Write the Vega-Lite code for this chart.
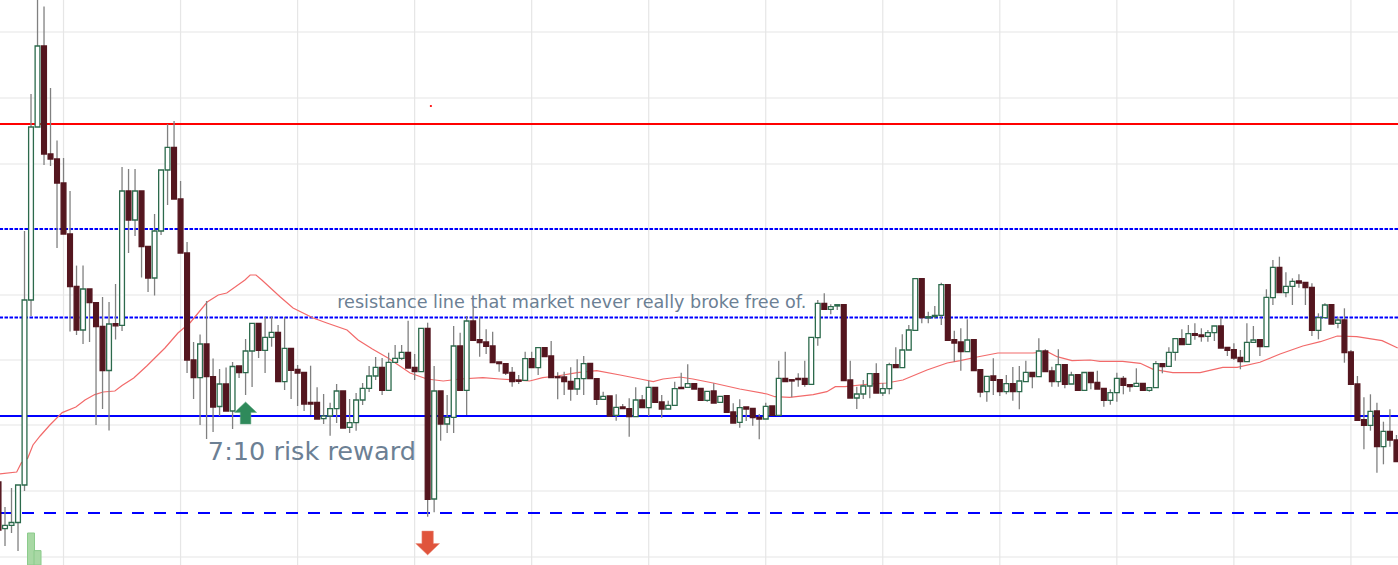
{
"$schema":"https://vega.github.io/schema/vega-lite/v6.json",
"description":"Daily candlesticks with moving average, resistance and support levels",
"autosize":{"type":"none"},
"padding":0,
"width":1398,
"height":565,
"background":"white",
"view":{"stroke":null},
"config":{"scale":{"continuousPadding":0}},
"datasets":{
"gridBars":[{"bar":10},{"bar":28},{"bar":46},{"bar":64},{"bar":82},{"bar":100},{"bar":118},{"bar":136},{"bar":154},{"bar":172},{"bar":190},{"bar":208}],
"gridPrices":[{"price":533},{"price":467},{"price":401},{"price":336},{"price":270},{"price":205},{"price":140},{"price":74},{"price":8}],
"volume":[{"bar":5,"volume":32},{"bar":6,"volume":14.4}],
"ma":[{"bar":0.2,"ma":91},{"bar":2.8,"ma":93},{"bar":3.5,"ma":102},{"bar":4.5,"ma":107},{"bar":5.3,"ma":120},{"bar":6.4,"ma":129},{"bar":7.9,"ma":140},{"bar":9.8,"ma":152.4},{"bar":11.9,"ma":158},{"bar":13.3,"ma":165},{"bar":14.8,"ma":170.4},{"bar":16.1,"ma":173},{"bar":17.9,"ma":174},{"bar":19,"ma":179.4},{"bar":20.8,"ma":187},{"bar":22.8,"ma":199},{"bar":25.6,"ma":217},{"bar":27.6,"ma":232},{"bar":29.5,"ma":242.5},{"bar":32.1,"ma":263},{"bar":33.8,"ma":270},{"bar":35.1,"ma":272},{"bar":37.9,"ma":285},{"bar":38.7,"ma":290},{"bar":39.6,"ma":290},{"bar":40.5,"ma":285},{"bar":43.3,"ma":268.3},{"bar":45.3,"ma":257},{"bar":48.4,"ma":247},{"bar":50.5,"ma":242},{"bar":53.6,"ma":235},{"bar":55.3,"ma":225},{"bar":57.5,"ma":216},{"bar":59.9,"ma":207},{"bar":63.3,"ma":192},{"bar":65.9,"ma":186},{"bar":68.4,"ma":184},{"bar":71,"ma":186},{"bar":74.5,"ma":187.3},{"bar":77.1,"ma":186},{"bar":81.7,"ma":184},{"bar":83.7,"ma":187.3},{"bar":85.9,"ma":189},{"bar":89,"ma":192.3},{"bar":92,"ma":194.3},{"bar":95.6,"ma":190},{"bar":98.7,"ma":186},{"bar":100.7,"ma":183.3},{"bar":102.2,"ma":186},{"bar":104.8,"ma":188},{"bar":106.8,"ma":186},{"bar":109.9,"ma":182},{"bar":114,"ma":176},{"bar":118.2,"ma":171},{"bar":119.4,"ma":168.3},{"bar":121.7,"ma":167.7},{"bar":125.3,"ma":170.3},{"bar":127.4,"ma":173.3},{"bar":128.7,"ma":178.3},{"bar":130.2,"ma":178.3},{"bar":134,"ma":181},{"bar":136.6,"ma":182},{"bar":139.1,"ma":185},{"bar":142.8,"ma":195},{"bar":145.9,"ma":202},{"bar":147.9,"ma":204.3},{"bar":150.5,"ma":208},{"bar":153.7,"ma":212},{"bar":159.1,"ma":212},{"bar":161.3,"ma":213.3},{"bar":162.8,"ma":208.3},{"bar":165.1,"ma":204.3},{"bar":167.9,"ma":205},{"bar":169.4,"ma":203.7},{"bar":172.9,"ma":203.7},{"bar":175.6,"ma":201.7},{"bar":177.6,"ma":195.7},{"bar":180.6,"ma":192.3},{"bar":184.8,"ma":192.3},{"bar":188.3,"ma":197.7},{"bar":190.5,"ma":197.7},{"bar":194,"ma":202.7},{"bar":197.1,"ma":211},{"bar":200.6,"ma":219},{"bar":203.3,"ma":223.3},{"bar":205.9,"ma":229},{"bar":208.9,"ma":228.3},{"bar":212.8,"ma":224.3},{"bar":215.2,"ma":217}],
"candles":[
{"bar":0,"open":83,"high":83,"low":30,"close":35},
{"bar":1,"open":36.4,"high":58,"low":19,"close":39.6},
{"bar":2,"open":39.6,"high":77,"low":32,"close":42.5},
{"bar":3,"open":42.5,"high":80,"low":14,"close":80},
{"bar":4,"open":80,"high":334,"low":74,"close":265},
{"bar":5,"open":265,"high":471,"low":249,"close":438},
{"bar":6,"open":438,"high":565,"low":438,"close":519},
{"bar":7,"open":519,"high":558.5,"low":400,"close":411},
{"bar":8,"open":411,"high":477,"low":399,"close":406},
{"bar":9,"open":406,"high":424.5,"low":317,"close":382},
{"bar":10,"open":382,"high":407,"low":331,"close":331},
{"bar":11,"open":331,"high":374,"low":233.5,"close":278.5},
{"bar":12,"open":278.5,"high":299.4,"low":230,"close":235},
{"bar":13,"open":235,"high":299.4,"low":221,"close":276},
{"bar":14,"open":276,"high":276,"low":223,"close":262.3},
{"bar":15,"open":262.3,"high":262.3,"low":140,"close":238.5},
{"bar":16,"open":238.5,"high":268,"low":156,"close":194.5},
{"bar":17,"open":194.5,"high":263,"low":134.4,"close":241},
{"bar":18,"open":241.4,"high":281,"low":225.5,"close":239.2},
{"bar":19,"open":239.6,"high":398,"low":234,"close":374},
{"bar":20,"open":374,"high":396,"low":312,"close":345},
{"bar":21,"open":345,"high":396,"low":329,"close":374},
{"bar":22,"open":374,"high":374,"low":287.5,"close":318.5},
{"bar":23,"open":318.5,"high":318.5,"low":273,"close":287},
{"bar":24,"open":287,"high":351,"low":269.5,"close":334},
{"bar":25,"open":334,"high":395,"low":330,"close":395},
{"bar":26,"open":395,"high":441,"low":360,"close":417.6},
{"bar":27,"open":417.6,"high":444,"low":366,"close":366},
{"bar":28,"open":366,"high":384,"low":312,"close":312},
{"bar":29,"open":312,"high":323,"low":192,"close":205},
{"bar":30,"open":205,"high":223,"low":166,"close":187.3},
{"bar":31,"open":187.3,"high":230.6,"low":140,"close":221},
{"bar":32,"open":221,"high":264,"low":126,"close":188.4},
{"bar":33,"open":188.4,"high":206.4,"low":133,"close":158},
{"bar":34,"open":158.5,"high":196,"low":149,"close":181},
{"bar":35,"open":181,"high":197.4,"low":154,"close":154},
{"bar":36,"open":154,"high":203,"low":136,"close":198.5},
{"bar":37,"open":199,"high":199,"low":187,"close":192.3},
{"bar":38,"open":192.3,"high":226,"low":170,"close":214},
{"bar":39,"open":214,"high":241.7,"low":178,"close":241.7},
{"bar":40,"open":241.7,"high":241.7,"low":207,"close":214.7},
{"bar":41,"open":214.7,"high":248.3,"low":192,"close":227.7},
{"bar":42,"open":227.7,"high":248.3,"low":218.3,"close":232.7},
{"bar":43,"open":232.7,"high":240,"low":183.3,"close":183.3},
{"bar":44,"open":183.3,"high":248,"low":175,"close":216.7},
{"bar":45,"open":216.7,"high":216.7,"low":166,"close":194.7},
{"bar":46,"open":195.7,"high":200,"low":159,"close":192},
{"bar":47,"open":192.7,"high":192.7,"low":154,"close":161},
{"bar":48,"open":162.7,"high":199.3,"low":150,"close":161},
{"bar":49,"open":162.7,"high":177.7,"low":146,"close":146},
{"bar":50,"open":146.3,"high":171,"low":141,"close":149},
{"bar":51,"open":149,"high":162.3,"low":129.3,"close":156.3},
{"bar":52,"open":156.3,"high":181,"low":142,"close":174},
{"bar":53,"open":174,"high":174,"low":137,"close":137},
{"bar":54,"open":137.7,"high":166,"low":132,"close":142.3},
{"bar":55,"open":142.3,"high":172,"low":134.3,"close":165},
{"bar":56,"open":165,"high":182,"low":160,"close":176.7},
{"bar":57,"open":176.7,"high":199,"low":173,"close":189},
{"bar":58,"open":189,"high":208,"low":185,"close":197.7},
{"bar":59,"open":197.7,"high":207,"low":170,"close":174.7},
{"bar":60,"open":174.7,"high":212.3,"low":174.7,"close":202.7},
{"bar":61,"open":202.7,"high":220,"low":202,"close":206.7},
{"bar":62,"open":206.7,"high":220,"low":205,"close":212.7},
{"bar":63,"open":212.7,"high":244.3,"low":197,"close":197},
{"bar":64,"open":197.7,"high":211,"low":185,"close":193.3},
{"bar":65,"open":193.3,"high":236.7,"low":193.3,"close":236.7},
{"bar":66,"open":236.7,"high":242.3,"low":48.3,"close":65.7},
{"bar":67,"open":66,"high":199,"low":52.7,"close":174},
{"bar":68,"open":174,"high":174,"low":124.3,"close":141},
{"bar":69,"open":141,"high":170,"low":132,"close":147.7},
{"bar":70,"open":147.7,"high":239,"low":132,"close":219},
{"bar":71,"open":219,"high":232.3,"low":174.7,"close":174.7},
{"bar":72,"open":174.7,"high":249,"low":150,"close":244},
{"bar":73,"open":244,"high":258.3,"low":224.7,"close":224.7},
{"bar":74,"open":225.3,"high":248.3,"low":208.3,"close":222.3},
{"bar":75,"open":223,"high":235.7,"low":211,"close":218.7},
{"bar":76,"open":219,"high":233.3,"low":202.3,"close":202.3},
{"bar":77,"open":203,"high":203,"low":193.3,"close":201.3},
{"bar":78,"open":201.3,"high":201.3,"low":190,"close":192},
{"bar":79,"open":192.7,"high":198,"low":178.3,"close":183.3},
{"bar":80,"open":185,"high":190,"low":181,"close":183.7},
{"bar":81,"open":184.7,"high":213.3,"low":184.7,"close":206.3},
{"bar":82,"open":206.3,"high":213.3,"low":197.3,"close":197.3},
{"bar":83,"open":197.3,"high":217.3,"low":190,"close":217.3},
{"bar":84,"open":217.3,"high":217.3,"low":208,"close":208.3},
{"bar":85,"open":209,"high":224,"low":187.3,"close":187.3},
{"bar":86,"open":188.3,"high":192.7,"low":165.7,"close":187.3},
{"bar":87,"open":188,"high":193.3,"low":170,"close":183.3},
{"bar":88,"open":183.7,"high":197.7,"low":164.3,"close":176},
{"bar":89,"open":176,"high":205.7,"low":170,"close":186.3},
{"bar":90,"open":186.3,"high":209,"low":170,"close":201.3},
{"bar":91,"open":201.7,"high":201.7,"low":186.3,"close":186.3},
{"bar":92,"open":186.3,"high":186.3,"low":160,"close":165.7},
{"bar":93,"open":165.7,"high":173.3,"low":165.7,"close":168.7},
{"bar":94,"open":169,"high":169,"low":149,"close":149},
{"bar":95,"open":149.7,"high":170.7,"low":144.3,"close":157.7},
{"bar":96,"open":158,"high":161,"low":156.3,"close":156.3},
{"bar":97,"open":156.3,"high":166.7,"low":128.3,"close":148.3},
{"bar":98,"open":148.3,"high":177.7,"low":148.3,"close":165},
{"bar":99,"open":165,"high":170,"low":157.3,"close":157.3},
{"bar":100,"open":157.3,"high":184.3,"low":149,"close":177.7},
{"bar":101,"open":177.7,"high":177.7,"low":162.7,"close":162.7},
{"bar":102,"open":163,"high":170,"low":147.3,"close":156},
{"bar":103,"open":156,"high":164.3,"low":156,"close":159.7},
{"bar":104,"open":159.7,"high":183.3,"low":159.7,"close":176.3},
{"bar":105,"open":177.7,"high":192.3,"low":176.3,"close":176.3},
{"bar":106,"open":177.7,"high":200.7,"low":177.7,"close":181.3},
{"bar":107,"open":181.3,"high":181.3,"low":176,"close":176},
{"bar":108,"open":176.7,"high":176.7,"low":164.7,"close":164.7},
{"bar":109,"open":164.7,"high":173.7,"low":163.3,"close":173.7},
{"bar":110,"open":174,"high":181.7,"low":162,"close":162},
{"bar":111,"open":162.7,"high":168.7,"low":162.7,"close":168.7},
{"bar":112,"open":169.3,"high":169.3,"low":152.7,"close":152.7},
{"bar":113,"open":153,"high":161.7,"low":142,"close":142},
{"bar":114,"open":142.7,"high":165.7,"low":137.3,"close":157.3},
{"bar":115,"open":158,"high":158,"low":144,"close":156},
{"bar":116,"open":156.7,"high":156.7,"low":139.3,"close":147.3},
{"bar":117,"open":147.7,"high":151,"low":125.7,"close":146},
{"bar":118,"open":146,"high":162.3,"low":146,"close":158.7},
{"bar":119,"open":159,"high":159,"low":149.7,"close":149.7},
{"bar":120,"open":149.7,"high":204.3,"low":149.7,"close":186.7},
{"bar":121,"open":186.7,"high":213.3,"low":183.3,"close":183.3},
{"bar":122,"open":185.3,"high":185.3,"low":167.7,"close":184},
{"bar":123,"open":186.7,"high":191.7,"low":178.3,"close":185.3},
{"bar":124,"open":186.7,"high":204.3,"low":178.3,"close":180.7},
{"bar":125,"open":180.7,"high":227.7,"low":180.7,"close":227.7},
{"bar":126,"open":227.3,"high":265,"low":219.3,"close":261.7},
{"bar":127,"open":261.7,"high":271.7,"low":255.7,"close":255.7},
{"bar":128,"open":255.7,"high":260.7,"low":250.7,"close":258.3},
{"bar":129,"open":259,"high":260.3,"low":255,"close":260.3},
{"bar":130,"open":260.3,"high":260.3,"low":184.3,"close":184.3},
{"bar":131,"open":185,"high":204.3,"low":167,"close":167},
{"bar":132,"open":167,"high":178.3,"low":156,"close":171},
{"bar":133,"open":171,"high":185,"low":166,"close":179},
{"bar":134,"open":179,"high":191.3,"low":166.7,"close":191.3},
{"bar":135,"open":191.3,"high":201.7,"low":172,"close":172},
{"bar":136,"open":172,"high":182,"low":169,"close":176.3},
{"bar":137,"open":176.3,"high":202.3,"low":170.7,"close":200.3},
{"bar":138,"open":200.3,"high":217.7,"low":197.3,"close":197.3},
{"bar":139,"open":197.3,"high":230.7,"low":197.3,"close":215},
{"bar":140,"open":215,"high":240,"low":215,"close":235},
{"bar":141,"open":234.7,"high":286.3,"low":234.7,"close":286.3},
{"bar":142,"open":286.3,"high":286.3,"low":241.7,"close":247.3},
{"bar":143,"open":247,"high":253.3,"low":241.7,"close":248.3},
{"bar":144,"open":248.3,"high":259,"low":246.7,"close":249.7},
{"bar":145,"open":249.7,"high":282.3,"low":240,"close":280.3},
{"bar":146,"open":280.3,"high":280.3,"low":224.7,"close":224.7},
{"bar":147,"open":225.3,"high":234.3,"low":203.3,"close":222},
{"bar":148,"open":223,"high":236.7,"low":194.3,"close":213.3},
{"bar":149,"open":213.3,"high":245.7,"low":213.3,"close":225},
{"bar":150,"open":225.3,"high":225.3,"low":194.3,"close":194.3},
{"bar":151,"open":195.3,"high":195.3,"low":167.7,"close":173},
{"bar":152,"open":173.3,"high":188.7,"low":163.3,"close":188.7},
{"bar":153,"open":189,"high":206.7,"low":170,"close":184.7},
{"bar":154,"open":185.3,"high":185.3,"low":169,"close":173.3},
{"bar":155,"open":173.3,"high":190,"low":170.7,"close":181.3},
{"bar":156,"open":181.3,"high":198,"low":164.3,"close":173.3},
{"bar":157,"open":173.3,"high":199,"low":155.7,"close":184},
{"bar":158,"open":183.3,"high":204.3,"low":183.3,"close":192.7},
{"bar":159,"open":192.7,"high":192.7,"low":176.7,"close":188.3},
{"bar":160,"open":188.3,"high":226.7,"low":188.3,"close":214},
{"bar":161,"open":214,"high":215.7,"low":193.3,"close":193.3},
{"bar":162,"open":194,"high":198.3,"low":178.3,"close":183.3},
{"bar":163,"open":183.3,"high":215.7,"low":178.3,"close":200.3},
{"bar":164,"open":200.3,"high":200.3,"low":176.7,"close":180.7},
{"bar":165,"open":181,"high":193.3,"low":181,"close":190},
{"bar":166,"open":190.3,"high":190.3,"low":174.7,"close":174.7},
{"bar":167,"open":174.7,"high":192.5,"low":174.7,"close":192.5},
{"bar":168,"open":192.7,"high":192.7,"low":175.7,"close":182.3},
{"bar":169,"open":182.7,"high":194.3,"low":176,"close":176},
{"bar":170,"open":176.7,"high":176.7,"low":158.3,"close":164.7},
{"bar":171,"open":164.7,"high":175.7,"low":160.3,"close":172.3},
{"bar":172,"open":172.3,"high":192.3,"low":163.3,"close":186.7},
{"bar":173,"open":186.7,"high":189,"low":170.7,"close":179.7},
{"bar":174,"open":180.3,"high":180.3,"low":173.3,"close":178.3},
{"bar":175,"open":178.7,"high":196.7,"low":178.7,"close":181.7},
{"bar":176,"open":181.7,"high":181.7,"low":174.7,"close":174.7},
{"bar":177,"open":174.7,"high":177.3,"low":173.3,"close":177.3},
{"bar":178,"open":177.3,"high":204,"low":177.3,"close":201.3},
{"bar":179,"open":201.3,"high":201.3,"low":191.7,"close":198.3},
{"bar":180,"open":198.7,"high":217.7,"low":198.7,"close":212.7},
{"bar":181,"open":212.7,"high":226.3,"low":204.3,"close":226.3},
{"bar":182,"open":226.3,"high":235.7,"low":220.3,"close":220.3},
{"bar":183,"open":220.7,"high":240,"low":220.7,"close":231.3},
{"bar":184,"open":231.3,"high":241.7,"low":225.3,"close":229.7},
{"bar":185,"open":230,"high":236.7,"low":223.3,"close":228.3},
{"bar":186,"open":228.7,"high":235,"low":223.3,"close":232.3},
{"bar":187,"open":232.3,"high":239,"low":224,"close":239},
{"bar":188,"open":239,"high":247.3,"low":217,"close":217},
{"bar":189,"open":217.7,"high":217.7,"low":209,"close":214.7},
{"bar":190,"open":215.3,"high":221.7,"low":205,"close":207},
{"bar":191,"open":207.7,"high":215,"low":195.7,"close":203.3},
{"bar":192,"open":203.3,"high":241.7,"low":203.3,"close":222.7},
{"bar":193,"open":222.7,"high":239,"low":222.7,"close":225},
{"bar":194,"open":225.3,"high":225.3,"low":209,"close":218.3},
{"bar":195,"open":218.3,"high":275.7,"low":218.3,"close":267.7},
{"bar":196,"open":267.3,"high":305,"low":260,"close":297.7},
{"bar":197,"open":297.7,"high":308.3,"low":272.3,"close":272.3},
{"bar":198,"open":272.3,"high":292.7,"low":267.7,"close":278.7},
{"bar":199,"open":278.7,"high":286.7,"low":260,"close":283.7},
{"bar":200,"open":284,"high":290.7,"low":277.3,"close":282},
{"bar":201,"open":282.7,"high":282.7,"low":260,"close":277.3},
{"bar":202,"open":277.7,"high":281.7,"low":229,"close":234.7},
{"bar":203,"open":234.7,"high":251.7,"low":225.7,"close":247.3},
{"bar":204,"open":247.3,"high":261.7,"low":247.3,"close":260},
{"bar":205,"open":260.3,"high":260.3,"low":241,"close":241},
{"bar":206,"open":241.7,"high":248.3,"low":236.7,"close":245},
{"bar":207,"open":245,"high":256.7,"low":202.3,"close":212.3},
{"bar":208,"open":213,"high":215,"low":180.7,"close":180.7},
{"bar":209,"open":181,"high":189,"low":144.7,"close":144.7},
{"bar":210,"open":145.3,"high":167.7,"low":115.7,"close":139.7},
{"bar":211,"open":139.7,"high":170.7,"low":134.3,"close":153.7},
{"bar":212,"open":154,"high":162.3,"low":92.3,"close":118.3},
{"bar":213,"open":118.3,"high":143.3,"low":100.7,"close":133.7},
{"bar":214,"open":133.7,"high":155.7,"low":118.3,"close":125},
{"bar":215,"open":125,"high":130,"low":103.3,"close":103.3}
]
},
"layer":[
{"data":{"name":"gridBars"},"mark":{"type":"rule","color":"#e6e6e6","strokeWidth":1.2},
 "encoding":{"x":{"field":"bar","type":"quantitative","scale":{"domain":[0.23,215.24],"nice":false,"zero":false},"axis":null}}},
{"data":{"name":"gridPrices"},"mark":{"type":"rule","color":"#e6e6e6","strokeWidth":1.2},
 "encoding":{"y":{"field":"price","type":"quantitative","scale":{"domain":[0,565],"nice":false,"zero":false},"axis":null}}},
{"data":{"name":"volume"},"mark":{"type":"bar","size":7,"orient":"vertical","fill":"#a8d8a4","stroke":"#8ccb8c","strokeWidth":1},
 "encoding":{"x":{"field":"bar","type":"quantitative","scale":{"domain":[0.23,215.24],"nice":false,"zero":false},"axis":null},
  "y":{"field":"volume","type":"quantitative","scale":{"domain":[0,565],"nice":false,"zero":false},"axis":null}}},
{"data":{"values":[{"level":441}]},"mark":{"type":"rule","color":"#ff0000","strokeWidth":2},
 "encoding":{"y":{"field":"level","type":"quantitative","scale":{"domain":[0,565],"nice":false,"zero":false},"axis":null}}},
{"data":{"values":[{"level":336},{"level":247.5}]},"mark":{"type":"rule","color":"#0000ff","strokeWidth":2,"strokeDash":[3.5,1.5]},
 "encoding":{"y":{"field":"level","type":"quantitative","scale":{"domain":[0,565],"nice":false,"zero":false},"axis":null}}},
{"data":{"values":[{"level":149}]},"mark":{"type":"rule","color":"#0000ff","strokeWidth":2},
 "encoding":{"y":{"field":"level","type":"quantitative","scale":{"domain":[0,565],"nice":false,"zero":false},"axis":null}}},
{"data":{"values":[{"level":52}]},"mark":{"type":"rule","color":"#0000ff","strokeWidth":2,"strokeDash":[12,10]},
 "encoding":{"y":{"field":"level","type":"quantitative","scale":{"domain":[0,565],"nice":false,"zero":false},"axis":null}}},
{"data":{"name":"ma"},"mark":{"type":"line","color":"#f26a6a","strokeWidth":1.2,"clip":true},
 "encoding":{"x":{"field":"bar","type":"quantitative","scale":{"domain":[0.23,215.24],"nice":false,"zero":false},"axis":null},
  "y":{"field":"ma","type":"quantitative","scale":{"domain":[0,565],"nice":false,"zero":false},"axis":null}}},
{"data":{"name":"candles"},"mark":{"type":"rule","color":"#808080","strokeWidth":1.3,"clip":true},
 "encoding":{"x":{"field":"bar","type":"quantitative","scale":{"domain":[0.23,215.24],"nice":false,"zero":false},"axis":null},
  "y":{"field":"low","type":"quantitative","scale":{"domain":[0,565],"nice":false,"zero":false},"axis":null},
  "y2":{"field":"high"}}},
{"data":{"name":"candles"},"mark":{"type":"bar","size":4.8,"orient":"vertical","strokeWidth":1.3,"clip":true},
 "encoding":{"x":{"field":"bar","type":"quantitative","scale":{"domain":[0.23,215.24],"nice":false,"zero":false},"axis":null},
  "y":{"field":"open","type":"quantitative","scale":{"domain":[0,565],"nice":false,"zero":false},"axis":null},
  "y2":{"field":"close"},
  "fill":{"condition":{"test":"datum.close>=datum.open","value":"#ffffff"},"value":"#54161f"},
  "stroke":{"condition":{"test":"datum.close>=datum.open","value":"#2c6a4c"},"value":"#54161f"}}},
{"data":{"values":[{"bar":38,"price":152}]},"mark":{"type":"point","filled":true,"size":490,"opacity":1,"fill":"#2f8a5b","stroke":"#6aa888","strokeWidth":0.5,"shape":"M0,-1L1,-0.05L0.48,-0.05L0.48,1L-0.48,1L-0.48,-0.05L-1,-0.05Z"},
 "encoding":{"x":{"field":"bar","type":"quantitative","scale":{"domain":[0.23,215.24],"nice":false,"zero":false},"axis":null},
  "y":{"field":"price","type":"quantitative","scale":{"domain":[0,565],"nice":false,"zero":false},"axis":null}}},
{"data":{"values":[{"bar":66,"price":22}]},"mark":{"type":"point","filled":true,"size":570,"opacity":1,"fill":"#e0543c","stroke":"#e89080","strokeWidth":0.5,"shape":"M0,1L1,0.05L0.48,0.05L0.48,-1L-0.48,-1L-0.48,0.05L-1,0.05Z"},
 "encoding":{"x":{"field":"bar","type":"quantitative","scale":{"domain":[0.23,215.24],"nice":false,"zero":false},"axis":null},
  "y":{"field":"price","type":"quantitative","scale":{"domain":[0,565],"nice":false,"zero":false},"axis":null}}},
{"data":{"values":[{"bar":66.5,"price":459}]},"mark":{"type":"point","filled":true,"size":5,"opacity":1,"color":"#ff0000"},
 "encoding":{"x":{"field":"bar","type":"quantitative","scale":{"domain":[0.23,215.24],"nice":false,"zero":false},"axis":null},
  "y":{"field":"price","type":"quantitative","scale":{"domain":[0,565],"nice":false,"zero":false},"axis":null}}},
{"data":{"values":[{"bar":52.1,"price":257,"note":"resistance line that market never really broke free of."}]},"mark":{"type":"text","align":"left","baseline":"alphabetic","font":"DejaVu Sans","fontSize":17.6,"color":"#6c8094"},
 "encoding":{"x":{"field":"bar","type":"quantitative","scale":{"domain":[0.23,215.24],"nice":false,"zero":false},"axis":null},
  "y":{"field":"price","type":"quantitative","scale":{"domain":[0,565],"nice":false,"zero":false},"axis":null},
  "text":{"field":"note"}}},
{"data":{"values":[{"bar":32.2,"price":105,"note":"7:10 risk reward"}]},"mark":{"type":"text","align":"left","baseline":"alphabetic","font":"DejaVu Sans","fontSize":25.6,"color":"#6c8094"},
 "encoding":{"x":{"field":"bar","type":"quantitative","scale":{"domain":[0.23,215.24],"nice":false,"zero":false},"axis":null},
  "y":{"field":"price","type":"quantitative","scale":{"domain":[0,565],"nice":false,"zero":false},"axis":null},
  "text":{"field":"note"}}}
]
}
